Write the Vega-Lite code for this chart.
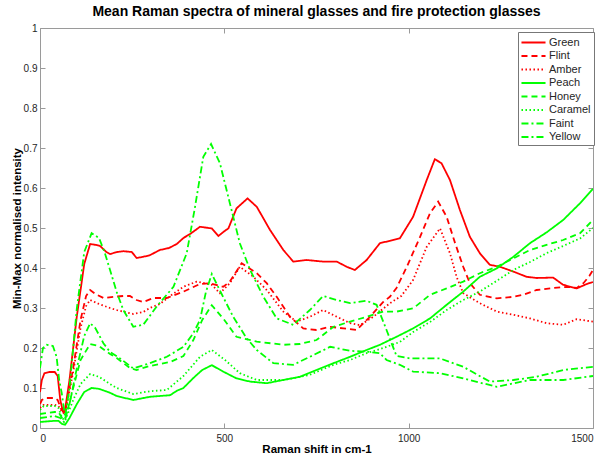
{
"$schema": "https://vega.github.io/schema/vega-lite/v6.json",
"width": 553, "height": 400,
"autosize": {"type": "none"},
"padding": {"left": 40, "top": 28, "right": 11, "bottom": 31},
"background": "white",
"title": {"text": "Mean Raman spectra of mineral glasses and fire protection glasses", "font": "Liberation Sans", "fontSize": 14, "fontWeight": "bold", "anchor": "middle", "offset": 4, "color": "black"},
"config": {
  "view": {"stroke": null},
  "font": "Liberation Sans",
  "axis": {"grid": false, "domainColor": "#9a9a9a", "tickColor": "#9a9a9a", "tickSize": -5, "labelFont": "Liberation Sans", "labelFontSize": 10, "labelColor": "#262626", "titleFont": "Liberation Sans", "titleFontSize": 11.5, "titleFontWeight": "bold", "titleColor": "black"},
  "legend": {"orient": "none", "legendX": 478, "legendY": 4, "padding": 3, "strokeColor": "#777", "fillColor": "white", "symbolType": "M-1.85,0H1.85", "symbolSize": 169, "symbolStrokeWidth": 1.8, "labelFont": "Liberation Sans", "labelFontSize": 11, "labelColor": "#262626", "rowPadding": 0.5, "labelOffset": 8, "symbolOffset": 5}
},
"data": {"values": [
{"s":"Green","x":0,"y":0.09},{"s":"Green","x":5,"y":0.12},{"s":"Green","x":12,"y":0.137},{"s":"Green","x":25,"y":0.14},{"s":"Green","x":40,"y":0.14},{"s":"Green","x":48,"y":0.13},{"s":"Green","x":55,"y":0.07},{"s":"Green","x":60,"y":0.05},{"s":"Green","x":67,"y":0.04},{"s":"Green","x":80,"y":0.12},{"s":"Green","x":100,"y":0.28},{"s":"Green","x":120,"y":0.41},{"s":"Green","x":136,"y":0.46},{"s":"Green","x":150,"y":0.458},{"s":"Green","x":163,"y":0.455},{"s":"Green","x":180,"y":0.44},{"s":"Green","x":190,"y":0.435},{"s":"Green","x":210,"y":0.44},{"s":"Green","x":226,"y":0.442},{"s":"Green","x":249,"y":0.44},{"s":"Green","x":262,"y":0.425},{"s":"Green","x":280,"y":0.428},{"s":"Green","x":298,"y":0.432},{"s":"Green","x":325,"y":0.445},{"s":"Green","x":350,"y":0.45},{"s":"Green","x":371,"y":0.46},{"s":"Green","x":389,"y":0.475},{"s":"Green","x":407,"y":0.485},{"s":"Green","x":434,"y":0.503},{"s":"Green","x":466,"y":0.499},{"s":"Green","x":484,"y":0.48},{"s":"Green","x":500,"y":0.492},{"s":"Green","x":511,"y":0.499},{"s":"Green","x":533,"y":0.549},{"s":"Green","x":563,"y":0.574},{"s":"Green","x":588,"y":0.553},{"s":"Green","x":624,"y":0.495},{"s":"Green","x":660,"y":0.445},{"s":"Green","x":687,"y":0.416},{"s":"Green","x":723,"y":0.42},{"s":"Green","x":768,"y":0.416},{"s":"Green","x":805,"y":0.416},{"s":"Green","x":832,"y":0.403},{"s":"Green","x":854,"y":0.395},{"s":"Green","x":886,"y":0.42},{"s":"Green","x":922,"y":0.462},{"s":"Green","x":976,"y":0.474},{"s":"Green","x":1012,"y":0.528},{"s":"Green","x":1049,"y":0.62},{"s":"Green","x":1071,"y":0.672},{"s":"Green","x":1089,"y":0.662},{"s":"Green","x":1112,"y":0.62},{"s":"Green","x":1139,"y":0.545},{"s":"Green","x":1166,"y":0.478},{"s":"Green","x":1193,"y":0.437},{"s":"Green","x":1220,"y":0.408},{"s":"Green","x":1248,"y":0.403},{"s":"Green","x":1284,"y":0.391},{"s":"Green","x":1320,"y":0.378},{"s":"Green","x":1347,"y":0.375},{"s":"Green","x":1392,"y":0.376},{"s":"Green","x":1419,"y":0.358},{"s":"Green","x":1456,"y":0.349},{"s":"Green","x":1483,"y":0.36},{"s":"Green","x":1500,"y":0.365},
{"s":"Flint","x":0,"y":0.06},{"s":"Flint","x":5,"y":0.07},{"s":"Flint","x":14,"y":0.075},{"s":"Flint","x":40,"y":0.075},{"s":"Flint","x":48,"y":0.07},{"s":"Flint","x":56,"y":0.05},{"s":"Flint","x":63,"y":0.04},{"s":"Flint","x":70,"y":0.05},{"s":"Flint","x":90,"y":0.15},{"s":"Flint","x":110,"y":0.27},{"s":"Flint","x":125,"y":0.33},{"s":"Flint","x":136,"y":0.345},{"s":"Flint","x":150,"y":0.335},{"s":"Flint","x":172,"y":0.325},{"s":"Flint","x":200,"y":0.328},{"s":"Flint","x":226,"y":0.33},{"s":"Flint","x":244,"y":0.33},{"s":"Flint","x":262,"y":0.32},{"s":"Flint","x":280,"y":0.315},{"s":"Flint","x":307,"y":0.325},{"s":"Flint","x":344,"y":0.325},{"s":"Flint","x":389,"y":0.341},{"s":"Flint","x":434,"y":0.36},{"s":"Flint","x":461,"y":0.362},{"s":"Flint","x":497,"y":0.353},{"s":"Flint","x":515,"y":0.366},{"s":"Flint","x":547,"y":0.412},{"s":"Flint","x":588,"y":0.387},{"s":"Flint","x":615,"y":0.362},{"s":"Flint","x":642,"y":0.328},{"s":"Flint","x":678,"y":0.278},{"s":"Flint","x":714,"y":0.249},{"s":"Flint","x":750,"y":0.245},{"s":"Flint","x":787,"y":0.253},{"s":"Flint","x":823,"y":0.249},{"s":"Flint","x":859,"y":0.245},{"s":"Flint","x":895,"y":0.278},{"s":"Flint","x":931,"y":0.315},{"s":"Flint","x":949,"y":0.328},{"s":"Flint","x":967,"y":0.35},{"s":"Flint","x":995,"y":0.403},{"s":"Flint","x":1031,"y":0.478},{"s":"Flint","x":1058,"y":0.537},{"s":"Flint","x":1080,"y":0.566},{"s":"Flint","x":1103,"y":0.528},{"s":"Flint","x":1126,"y":0.462},{"s":"Flint","x":1148,"y":0.403},{"s":"Flint","x":1166,"y":0.362},{"s":"Flint","x":1193,"y":0.333},{"s":"Flint","x":1239,"y":0.324},{"s":"Flint","x":1284,"y":0.328},{"s":"Flint","x":1311,"y":0.333},{"s":"Flint","x":1347,"y":0.345},{"s":"Flint","x":1392,"y":0.35},{"s":"Flint","x":1429,"y":0.353},{"s":"Flint","x":1456,"y":0.35},{"s":"Flint","x":1474,"y":0.362},{"s":"Flint","x":1490,"y":0.38},{"s":"Flint","x":1500,"y":0.395},
{"s":"Amber","x":0,"y":0.05},{"s":"Amber","x":10,"y":0.058},{"s":"Amber","x":40,"y":0.058},{"s":"Amber","x":50,"y":0.055},{"s":"Amber","x":60,"y":0.04},{"s":"Amber","x":68,"y":0.035},{"s":"Amber","x":90,"y":0.14},{"s":"Amber","x":110,"y":0.25},{"s":"Amber","x":125,"y":0.305},{"s":"Amber","x":136,"y":0.32},{"s":"Amber","x":160,"y":0.31},{"s":"Amber","x":190,"y":0.3},{"s":"Amber","x":208,"y":0.295},{"s":"Amber","x":253,"y":0.285},{"s":"Amber","x":280,"y":0.29},{"s":"Amber","x":298,"y":0.3},{"s":"Amber","x":325,"y":0.31},{"s":"Amber","x":353,"y":0.33},{"s":"Amber","x":389,"y":0.353},{"s":"Amber","x":425,"y":0.366},{"s":"Amber","x":466,"y":0.358},{"s":"Amber","x":488,"y":0.337},{"s":"Amber","x":515,"y":0.362},{"s":"Amber","x":542,"y":0.403},{"s":"Amber","x":579,"y":0.378},{"s":"Amber","x":615,"y":0.345},{"s":"Amber","x":660,"y":0.291},{"s":"Amber","x":696,"y":0.266},{"s":"Amber","x":732,"y":0.278},{"s":"Amber","x":768,"y":0.295},{"s":"Amber","x":805,"y":0.278},{"s":"Amber","x":841,"y":0.262},{"s":"Amber","x":868,"y":0.257},{"s":"Amber","x":904,"y":0.278},{"s":"Amber","x":949,"y":0.312},{"s":"Amber","x":980,"y":0.33},{"s":"Amber","x":1012,"y":0.37},{"s":"Amber","x":1049,"y":0.453},{"s":"Amber","x":1085,"y":0.499},{"s":"Amber","x":1112,"y":0.437},{"s":"Amber","x":1130,"y":0.378},{"s":"Amber","x":1148,"y":0.337},{"s":"Amber","x":1193,"y":0.312},{"s":"Amber","x":1239,"y":0.291},{"s":"Amber","x":1284,"y":0.283},{"s":"Amber","x":1329,"y":0.274},{"s":"Amber","x":1374,"y":0.262},{"s":"Amber","x":1419,"y":0.258},{"s":"Amber","x":1456,"y":0.272},{"s":"Amber","x":1500,"y":0.266},
{"s":"Peach","x":0,"y":0.015},{"s":"Peach","x":40,"y":0.018},{"s":"Peach","x":50,"y":0.018},{"s":"Peach","x":60,"y":0.01},{"s":"Peach","x":68,"y":0.008},{"s":"Peach","x":80,"y":0.025},{"s":"Peach","x":100,"y":0.06},{"s":"Peach","x":120,"y":0.09},{"s":"Peach","x":140,"y":0.1},{"s":"Peach","x":160,"y":0.098},{"s":"Peach","x":190,"y":0.088},{"s":"Peach","x":208,"y":0.08},{"s":"Peach","x":253,"y":0.07},{"s":"Peach","x":298,"y":0.078},{"s":"Peach","x":325,"y":0.08},{"s":"Peach","x":353,"y":0.082},{"s":"Peach","x":371,"y":0.093},{"s":"Peach","x":389,"y":0.1},{"s":"Peach","x":416,"y":0.125},{"s":"Peach","x":440,"y":0.145},{"s":"Peach","x":466,"y":0.157},{"s":"Peach","x":497,"y":0.141},{"s":"Peach","x":533,"y":0.124},{"s":"Peach","x":570,"y":0.116},{"s":"Peach","x":615,"y":0.112},{"s":"Peach","x":660,"y":0.12},{"s":"Peach","x":705,"y":0.128},{"s":"Peach","x":750,"y":0.145},{"s":"Peach","x":796,"y":0.162},{"s":"Peach","x":841,"y":0.178},{"s":"Peach","x":886,"y":0.195},{"s":"Peach","x":922,"y":0.208},{"s":"Peach","x":967,"y":0.228},{"s":"Peach","x":1012,"y":0.249},{"s":"Peach","x":1058,"y":0.274},{"s":"Peach","x":1103,"y":0.308},{"s":"Peach","x":1148,"y":0.341},{"s":"Peach","x":1193,"y":0.378},{"s":"Peach","x":1239,"y":0.399},{"s":"Peach","x":1284,"y":0.428},{"s":"Peach","x":1329,"y":0.462},{"s":"Peach","x":1374,"y":0.489},{"s":"Peach","x":1419,"y":0.52},{"s":"Peach","x":1465,"y":0.562},{"s":"Peach","x":1500,"y":0.598},
{"s":"Honey","x":0,"y":0.035},{"s":"Honey","x":40,"y":0.04},{"s":"Honey","x":50,"y":0.04},{"s":"Honey","x":60,"y":0.025},{"s":"Honey","x":68,"y":0.02},{"s":"Honey","x":90,"y":0.1},{"s":"Honey","x":110,"y":0.17},{"s":"Honey","x":136,"y":0.21},{"s":"Honey","x":160,"y":0.205},{"s":"Honey","x":190,"y":0.185},{"s":"Honey","x":208,"y":0.175},{"s":"Honey","x":244,"y":0.15},{"s":"Honey","x":262,"y":0.145},{"s":"Honey","x":298,"y":0.155},{"s":"Honey","x":325,"y":0.16},{"s":"Honey","x":353,"y":0.165},{"s":"Honey","x":389,"y":0.18},{"s":"Honey","x":416,"y":0.22},{"s":"Honey","x":440,"y":0.27},{"s":"Honey","x":466,"y":0.307},{"s":"Honey","x":500,"y":0.27},{"s":"Honey","x":533,"y":0.228},{"s":"Honey","x":588,"y":0.216},{"s":"Honey","x":660,"y":0.208},{"s":"Honey","x":705,"y":0.21},{"s":"Honey","x":750,"y":0.22},{"s":"Honey","x":796,"y":0.253},{"s":"Honey","x":841,"y":0.266},{"s":"Honey","x":886,"y":0.278},{"s":"Honey","x":931,"y":0.291},{"s":"Honey","x":967,"y":0.291},{"s":"Honey","x":1012,"y":0.299},{"s":"Honey","x":1058,"y":0.333},{"s":"Honey","x":1103,"y":0.349},{"s":"Honey","x":1148,"y":0.366},{"s":"Honey","x":1193,"y":0.387},{"s":"Honey","x":1239,"y":0.403},{"s":"Honey","x":1284,"y":0.424},{"s":"Honey","x":1329,"y":0.445},{"s":"Honey","x":1374,"y":0.458},{"s":"Honey","x":1419,"y":0.47},{"s":"Honey","x":1465,"y":0.487},{"s":"Honey","x":1500,"y":0.52},
{"s":"Caramel","x":0,"y":0.045},{"s":"Caramel","x":10,"y":0.055},{"s":"Caramel","x":40,"y":0.055},{"s":"Caramel","x":50,"y":0.05},{"s":"Caramel","x":60,"y":0.025},{"s":"Caramel","x":68,"y":0.018},{"s":"Caramel","x":90,"y":0.07},{"s":"Caramel","x":110,"y":0.11},{"s":"Caramel","x":136,"y":0.135},{"s":"Caramel","x":160,"y":0.128},{"s":"Caramel","x":190,"y":0.11},{"s":"Caramel","x":208,"y":0.1},{"s":"Caramel","x":253,"y":0.085},{"s":"Caramel","x":298,"y":0.092},{"s":"Caramel","x":344,"y":0.095},{"s":"Caramel","x":389,"y":0.13},{"s":"Caramel","x":434,"y":0.178},{"s":"Caramel","x":466,"y":0.195},{"s":"Caramel","x":502,"y":0.17},{"s":"Caramel","x":542,"y":0.137},{"s":"Caramel","x":588,"y":0.12},{"s":"Caramel","x":660,"y":0.12},{"s":"Caramel","x":732,"y":0.133},{"s":"Caramel","x":796,"y":0.158},{"s":"Caramel","x":841,"y":0.17},{"s":"Caramel","x":886,"y":0.187},{"s":"Caramel","x":931,"y":0.2},{"s":"Caramel","x":976,"y":0.215},{"s":"Caramel","x":1012,"y":0.24},{"s":"Caramel","x":1058,"y":0.265},{"s":"Caramel","x":1103,"y":0.295},{"s":"Caramel","x":1148,"y":0.32},{"s":"Caramel","x":1193,"y":0.341},{"s":"Caramel","x":1239,"y":0.368},{"s":"Caramel","x":1284,"y":0.395},{"s":"Caramel","x":1329,"y":0.415},{"s":"Caramel","x":1374,"y":0.437},{"s":"Caramel","x":1419,"y":0.455},{"s":"Caramel","x":1465,"y":0.474},{"s":"Caramel","x":1500,"y":0.5},
{"s":"Faint","x":0,"y":0.15},{"s":"Faint","x":8,"y":0.2},{"s":"Faint","x":18,"y":0.208},{"s":"Faint","x":35,"y":0.205},{"s":"Faint","x":45,"y":0.178},{"s":"Faint","x":52,"y":0.12},{"s":"Faint","x":59,"y":0.087},{"s":"Faint","x":68,"y":0.028},{"s":"Faint","x":80,"y":0.1},{"s":"Faint","x":100,"y":0.3},{"s":"Faint","x":120,"y":0.44},{"s":"Faint","x":140,"y":0.487},{"s":"Faint","x":160,"y":0.475},{"s":"Faint","x":175,"y":0.44},{"s":"Faint","x":190,"y":0.395},{"s":"Faint","x":208,"y":0.34},{"s":"Faint","x":226,"y":0.295},{"s":"Faint","x":253,"y":0.253},{"s":"Faint","x":280,"y":0.258},{"s":"Faint","x":316,"y":0.303},{"s":"Faint","x":362,"y":0.353},{"s":"Faint","x":398,"y":0.437},{"s":"Faint","x":420,"y":0.55},{"s":"Faint","x":434,"y":0.628},{"s":"Faint","x":443,"y":0.678},{"s":"Faint","x":464,"y":0.71},{"s":"Faint","x":488,"y":0.662},{"s":"Faint","x":515,"y":0.562},{"s":"Faint","x":542,"y":0.462},{"s":"Faint","x":570,"y":0.395},{"s":"Faint","x":606,"y":0.328},{"s":"Faint","x":642,"y":0.274},{"s":"Faint","x":687,"y":0.258},{"s":"Faint","x":732,"y":0.295},{"s":"Faint","x":768,"y":0.33},{"s":"Faint","x":805,"y":0.32},{"s":"Faint","x":841,"y":0.312},{"s":"Faint","x":886,"y":0.318},{"s":"Faint","x":913,"y":0.308},{"s":"Faint","x":940,"y":0.245},{"s":"Faint","x":967,"y":0.18},{"s":"Faint","x":1003,"y":0.174},{"s":"Faint","x":1085,"y":0.174},{"s":"Faint","x":1148,"y":0.153},{"s":"Faint","x":1220,"y":0.116},{"s":"Faint","x":1284,"y":0.12},{"s":"Faint","x":1347,"y":0.128},{"s":"Faint","x":1419,"y":0.145},{"s":"Faint","x":1500,"y":0.153},
{"s":"Yellow","x":0,"y":0.025},{"s":"Yellow","x":40,"y":0.03},{"s":"Yellow","x":55,"y":0.025},{"s":"Yellow","x":65,"y":0.015},{"s":"Yellow","x":80,"y":0.06},{"s":"Yellow","x":100,"y":0.15},{"s":"Yellow","x":120,"y":0.23},{"s":"Yellow","x":136,"y":0.262},{"s":"Yellow","x":150,"y":0.25},{"s":"Yellow","x":172,"y":0.212},{"s":"Yellow","x":190,"y":0.19},{"s":"Yellow","x":217,"y":0.174},{"s":"Yellow","x":253,"y":0.149},{"s":"Yellow","x":298,"y":0.162},{"s":"Yellow","x":344,"y":0.178},{"s":"Yellow","x":389,"y":0.203},{"s":"Yellow","x":416,"y":0.237},{"s":"Yellow","x":434,"y":0.27},{"s":"Yellow","x":450,"y":0.34},{"s":"Yellow","x":466,"y":0.385},{"s":"Yellow","x":490,"y":0.34},{"s":"Yellow","x":524,"y":0.278},{"s":"Yellow","x":560,"y":0.225},{"s":"Yellow","x":588,"y":0.195},{"s":"Yellow","x":633,"y":0.162},{"s":"Yellow","x":687,"y":0.158},{"s":"Yellow","x":732,"y":0.178},{"s":"Yellow","x":787,"y":0.203},{"s":"Yellow","x":841,"y":0.193},{"s":"Yellow","x":895,"y":0.19},{"s":"Yellow","x":922,"y":0.187},{"s":"Yellow","x":940,"y":0.17},{"s":"Yellow","x":976,"y":0.158},{"s":"Yellow","x":1012,"y":0.141},{"s":"Yellow","x":1085,"y":0.137},{"s":"Yellow","x":1148,"y":0.124},{"s":"Yellow","x":1239,"y":0.103},{"s":"Yellow","x":1329,"y":0.12},{"s":"Yellow","x":1419,"y":0.12},{"s":"Yellow","x":1500,"y":0.13}
]},
"layer": [
  {
    "mark": {"type": "line", "strokeWidth": 1.8, "clip": true},
    "encoding": {
      "x": {"field": "x", "type": "quantitative", "scale": {"domain": [0, 1500], "nice": false}, "axis": {"orient": "bottom", "values": [0, 500, 1000, 1500], "format": "d", "title": "Raman shift in cm-1", "labelPadding": 10, "titleY": 21, "titleBaseline": "middle"}},
      "y": {"field": "y", "type": "quantitative", "scale": {"domain": [0, 1], "nice": false}, "axis": {"orient": "left", "values": [0, 0.1, 0.2, 0.3, 0.4, 0.5, 0.6, 0.7, 0.8, 0.9, 1], "format": "~g", "title": "Min-Max normalised intensity", "labelPadding": 8, "titleX": -23, "titleBaseline": "middle"}},
      "color": {"field": "s", "type": "nominal", "scale": {"domain": ["Green", "Flint", "Amber", "Peach", "Honey", "Caramel", "Faint", "Yellow"], "range": ["#ff0000", "#ff0000", "#ff0000", "#00ff00", "#00ff00", "#00ff00", "#00ff00", "#00ff00"]}, "legend": {"title": null}},
      "strokeDash": {"field": "s", "type": "nominal", "scale": {"domain": ["Green", "Flint", "Amber", "Peach", "Honey", "Caramel", "Faint", "Yellow"], "range": [[1, 0], [6, 4], [1.5, 2.5], [1, 0], [6, 4], [1.5, 2.5], [7, 3, 2, 3], [7, 3, 2, 3]]}, "legend": {"title": null}}
    }
  },
  {
    "mark": {"type": "point", "opacity": 0},
    "encoding": {
      "x": {"field": "x", "type": "quantitative", "axis": {"orient": "top", "values": [0, 500, 1000, 1500], "labels": false, "title": null}},
      "y": {"field": "y", "type": "quantitative", "axis": {"orient": "right", "values": [0, 0.1, 0.2, 0.3, 0.4, 0.5, 0.6, 0.7, 0.8, 0.9, 1], "labels": false, "title": null}}
    }
  }
],
"resolve": {"axis": {"x": "independent", "y": "independent"}}
}
